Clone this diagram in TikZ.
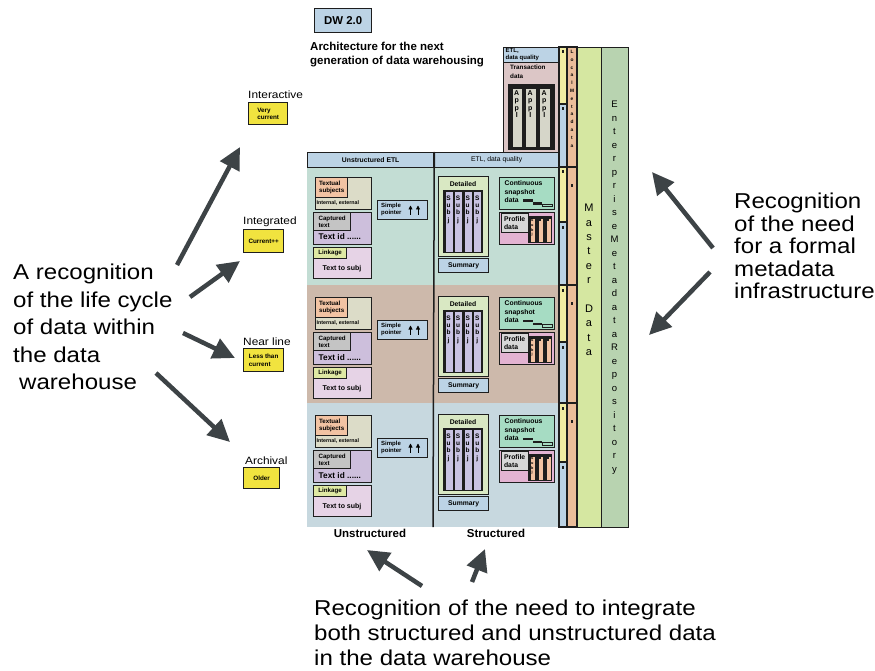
\documentclass[tikz,border=0pt]{standalone}
\usepackage{fontspec}
\setmainfont{Liberation Sans}
\newfontfamily\widefont{Liberation Sans}[FakeStretch=1.12]
\usetikzlibrary{arrows.meta}
\newcommand{\fsz}[2]{\fontsize{#1}{#2}\selectfont}
\definecolor{linecol}{HTML}{1E1E1E}
\definecolor{headblue}{HTML}{BCD3E5}
\definecolor{bandgreen}{HTML}{C3DDD4}
\definecolor{bandbrown}{HTML}{CDB9AB}
\definecolor{bandblue}{HTML}{C7D8DF}
\definecolor{tanbox}{HTML}{DCDCC8}
\definecolor{peach}{HTML}{F2C3A3}
\definecolor{lilac}{HTML}{CDBFDC}
\definecolor{greytag}{HTML}{C4C4C4}
\definecolor{pinkbox}{HTML}{E6D3E6}
\definecolor{limetag}{HTML}{DFE9A3}
\definecolor{detgreen}{HTML}{D9E8C3}
\definecolor{subjlilac}{HTML}{C9C3E3}
\definecolor{mint}{HTML}{A6DCC3}
\definecolor{profpink}{HTML}{E3B3D2}
\definecolor{lightgrey}{HTML}{D7D7D7}
\definecolor{transpink}{HTML}{DCC6C6}
\definecolor{applgrey}{HTML}{D6D6C9}
\definecolor{segyellow}{HTML}{F1ECA2}
\definecolor{orangecol}{HTML}{EBBD9A}
\definecolor{mastergreen}{HTML}{D5E7A1}
\definecolor{entgreen}{HTML}{B8D3B0}
\definecolor{ageyellow}{HTML}{F1E33F}
\definecolor{arrowgray}{HTML}{3D4346}

\begin{document}
\begin{tikzpicture}[x=1pt, y=-1pt,
    box/.style={draw=linecol, line width=1.3pt, inner sep=0pt, anchor=north west},
    tag/.style={box, align=left, font=\fsz{6.2}{7.2}\bfseries},
    lbl/.style={inner sep=0pt, font=\fsz{6.8}{8}\bfseries},
    level/.style={inner sep=0pt, anchor=base west, font=\widefont\fsz{10.6}{12}},
    agebox/.style={box, fill=ageyellow, minimum width=40pt, minimum height=22pt, align=left, font=\fsz{6.3}{7.3}\bfseries},
    callout/.style={inner sep=0pt, anchor=north west, align=left, font=\widefont\fsz{21.5}{27.5}},
    bigarrow/.style={line width=4.5pt, draw=arrowgray, -{Triangle[length=22pt,width=21pt]}},
    vletters/.style={inner sep=0pt, anchor=north, align=center}]
\useasboundingbox (0,0) rectangle (875,671);

    \node[box, fill=headblue, minimum width=57pt, minimum height=24pt, font=\fsz{11.4}{13}\bfseries] (dw) at (314,8) {DW 2.0};
    \node[inner sep=0pt, anchor=north west, align=left, font=\fsz{11.5}{14}\bfseries] (arch) at (310,42) {Architecture for the next\\generation of data warehousing};

    \node[level] (interactive) at (248,99) {Interactive};
    \node[agebox, minimum width=39pt] (veryc) at (248,102) {Very\\current};
    \node[level] (integrated) at (243,225) {Integrated};
    \node[agebox, minimum height=23pt] (currentpp) at (243,229) {Current++};
    \node[level] (nearline) at (243,345) {Near line};
    \node[agebox, minimum height=23pt] (lessthan) at (243,348) {Less than\\current};
    \node[level] (archival) at (245,464) {Archival};
    \node[agebox, minimum width=36pt, minimum height=21pt] (older) at (243,467) {Older};

    \node[callout] (lifecycle) at (13,264) {A recognition\\of the life cycle\\of data within\\the data\\\hspace*{6pt}warehouse};
    \node[callout, font=\widefont\fsz{21.5}{22.5}] (metainfra) at (734,193) {Recognition\\of the need\\for a formal\\metadata\\infrastructure};
    \node[callout, font=\widefont\fsz{21.5}{25}] (integrate) at (314,600) {Recognition of the need to integrate\\both structured and unstructured data\\in the data warehouse};

    \fill[bandgreen] (307,167) rectangle (559,285);
    \fill[bandbrown] (307,285) rectangle (559,403);
    \fill[bandblue] (307,403) rectangle (559,527);

    \node[box, fill=headblue, minimum width=126pt, minimum height=15pt, font=\fsz{6.8}{8}\bfseries] (uetl) at (307,152) {Unstructured ETL};
    \node[box, fill=headblue, minimum width=126pt, minimum height=15pt, font=\fsz{6.8}{8}] (setl) at (433,152) {ETL, data quality};

    \node[box, fill=headblue, minimum width=55pt, minimum height=15pt] (etltop) at (503,47) {};
    \node[inner sep=0pt, anchor=north west, align=left, font=\fsz{6}{7}\bfseries] at (505.5,48.5) {ETL,\\data quality};
    \node[box, fill=transpink, minimum width=55pt, minimum height=90pt] (trans) at (503,62) {};
    \node[inner sep=0pt, anchor=north west, align=left, font=\fsz{6.3}{8.5}\bfseries] at (510,65) {Transaction\\data};
    \fill[linecol] (508,84) rectangle (555,150);
    \foreach \x in {511.5,525,539} {
        \node[box, fill=applgrey, minimum width=10.5pt, minimum height=60pt] at (\x,87.5) {};
        \node[vletters, font=\fsz{7}{7.5}\bfseries] at ({\x+5.25},90) {A\\p\\p\\l};
    }

    \foreach \t/\b/\c in {47/104/segyellow, 104/167/headblue, 167/222/segyellow, 222/285/headblue, 285/342/segyellow, 342/403/headblue, 403/462/segyellow, 462/527/headblue} {
        \draw[fill=\c, draw=linecol, line width=1.3pt] (559,\t) rectangle (567,\b);
        \fill[linecol] (561.8,\t+3.5) rectangle (564.2,\t+6.5);
    }
    \foreach \t/\b in {47/167, 167/285, 285/403, 403/527} {
        \draw[fill=orangecol, draw=linecol, line width=1.3pt] (567,\t) rectangle (577,\b);
    }
    \foreach \t in {167,285,403} {
        \fill[linecol] (570.8,\t+17) rectangle (573.2,\t+20);
    }
    \node[vletters, font=\fsz{4.8}{7.8}\bfseries] (localmeta) at (572,50) {L\\o\\c\\a\\l\\M\\e\\t\\a\\d\\a\\t\\a};

    \node[box, fill=mastergreen, minimum width=24pt, minimum height=480pt] (master) at (577,47) {};
    \node[vletters, font=\fsz{11}{14.4}] at (589,204) {M\\a\\s\\t\\e\\r\\[14.4pt]D\\a\\t\\a};
    \node[box, fill=entgreen, minimum width=27pt, minimum height=480pt] (enterprise) at (601,47) {};
    \node[vletters, font=\fsz{9.5}{13.5}] at (614.5,101) {E\\n\\t\\e\\r\\p\\r\\i\\s\\e\\M\\e\\t\\a\\d\\a\\t\\a\\R\\e\\p\\o\\s\\i\\t\\o\\r\\y};

    \foreach \i/\off in {1/0, 2/120, 3/238} {
    \begin{scope}[shift={(0,\off)}]
        \node[box, fill=tanbox, minimum width=56pt, minimum height=32pt] (textual\i) at (315,177) {};
        \node[tag, fill=peach, minimum width=32pt, minimum height=20pt] at (315,177) {Textual\\subjects};
        \node[inner sep=0pt, anchor=west, font=\fsz{5.3}{6}\bfseries] at (316.5,203) {Internal, external};

        \node[box, fill=lilac, minimum width=58pt, minimum height=32pt] (captured\i) at (313,212) {};
        \node[tag, fill=greytag, minimum width=37pt, minimum height=18pt] at (313,212) {Captured\\text};
        \node[inner sep=0pt, anchor=base west, font=\fsz{8.3}{9}\bfseries] at (318.5,240) {Text id ......};

        \node[box, fill=pinkbox, minimum width=58pt, minimum height=31pt] (linkage\i) at (313,247) {};
        \node[tag, fill=limetag, minimum width=33pt, minimum height=11pt] at (313,247) {Linkage};
        \node[inner sep=0pt, anchor=base, font=\fsz{7}{8}\bfseries] at (342,270.5) {Text to subj};

        \node[box, fill=headblue, minimum width=50pt, minimum height=19pt] (pointer\i) at (377,200) {};
        \node[inner sep=0pt, anchor=west, align=left, font=\fsz{6}{7.2}\bfseries] at (381,209.5) {Simple\\pointer};
        \draw[line width=0.8pt, -{Triangle[length=4pt,width=4pt]}] (410.5,214.5) -- (410.5,205.5);
        \draw[line width=0.8pt, -{Triangle[length=4pt,width=4pt]}] (418,214.5) -- (418,205.5);

        \node[box, fill=detgreen, minimum width=50pt, minimum height=80pt] (detailed\i) at (438,176) {};
        \node[lbl] at (463,184) {Detailed};
        \fill[linecol] (443,190) rectangle (483,253);
        \foreach \k in {0,1,2,3} {
            \node[box, fill=subjlilac, minimum width=8pt, minimum height=61pt, line width=1pt] at ({444.5+9.6*\k},191) {};
            \node[vletters, font=\fsz{6.5}{7.3}\bfseries] at ({448.5+9.6*\k},195.5) {S\\u\\b\\j};
        }
        \node[box, fill=headblue, minimum width=50pt, minimum height=14pt, font=\fsz{6.8}{8}\bfseries] (summary\i) at (438,258) {Summary};

        \node[box, fill=mint, minimum width=55pt, minimum height=32pt] (snapshot\i) at (499,177) {};
        \node[inner sep=0pt, anchor=north west, align=left, font=\fsz{6.8}{8.5}\bfseries] at (504.5,180.5) {Continuous\\snapshot\\data};
        \fill[linecol] (523,199.5) rectangle (533,202);
        \fill[linecol] (533,202.5) rectangle (542,205);
        \draw[line width=1pt, draw=linecol, fill=mint] (542,204.5) rectangle (552,207);

        \node[box, fill=profpink, minimum width=55pt, minimum height=32pt] (profile\i) at (499,212) {};
        \node[tag, fill=lightgrey, minimum width=27pt, minimum height=19pt, font=\fsz{6.8}{8}\bfseries] at (500.5,212.5) {Profile\\data};
        \fill[linecol] (528,216) rectangle (552,243);
        \foreach \k in {0,1,2} {
            \node[box, fill=peach, minimum width=5.5pt, minimum height=24.5pt, line width=0.6pt] at ({529.5+8*\k},217.5) {};
        }
        \node[vletters, font=\fsz{3.8}{4.6}\bfseries] at (532.2,219) {S\\u\\b\\j};
        \fill[linecol] (539,219) rectangle (541,221);
        \fill[linecol] (547,219) rectangle (549,221);
    \end{scope}
    }

    \coordinate (split) at (433,527);
    \draw[line width=1.5pt, draw=linecol] (uetl.north east) -- (split);

    \node[inner sep=0pt, font=\fsz{11.5}{13}\bfseries] (unstructured) at (370,533) {Unstructured};
    \node[inner sep=0pt, font=\fsz{11.5}{13}\bfseries] (structured) at (496,533) {Structured};

    \coordinate (a1) at (177,265); \coordinate (b1) at (240,147);
    \coordinate (a2) at (190,297); \coordinate (b2) at (240,261);
    \coordinate (a3) at (183,333); \coordinate (b3) at (235,358);
    \coordinate (a4) at (156,373); \coordinate (b4) at (230,442);
    \coordinate (a5) at (713,248); \coordinate (b5) at (652,172);
    \coordinate (a6) at (710,272); \coordinate (b6) at (649,335);
    \coordinate (a7) at (422,586); \coordinate (b7) at (367,550);
    \coordinate (a8) at (472,582); \coordinate (b8) at (485,549);
    \foreach \n in {1,...,8} {
        \draw[bigarrow] (a\n) -- (b\n);
    }

\end{tikzpicture}
\end{document}
